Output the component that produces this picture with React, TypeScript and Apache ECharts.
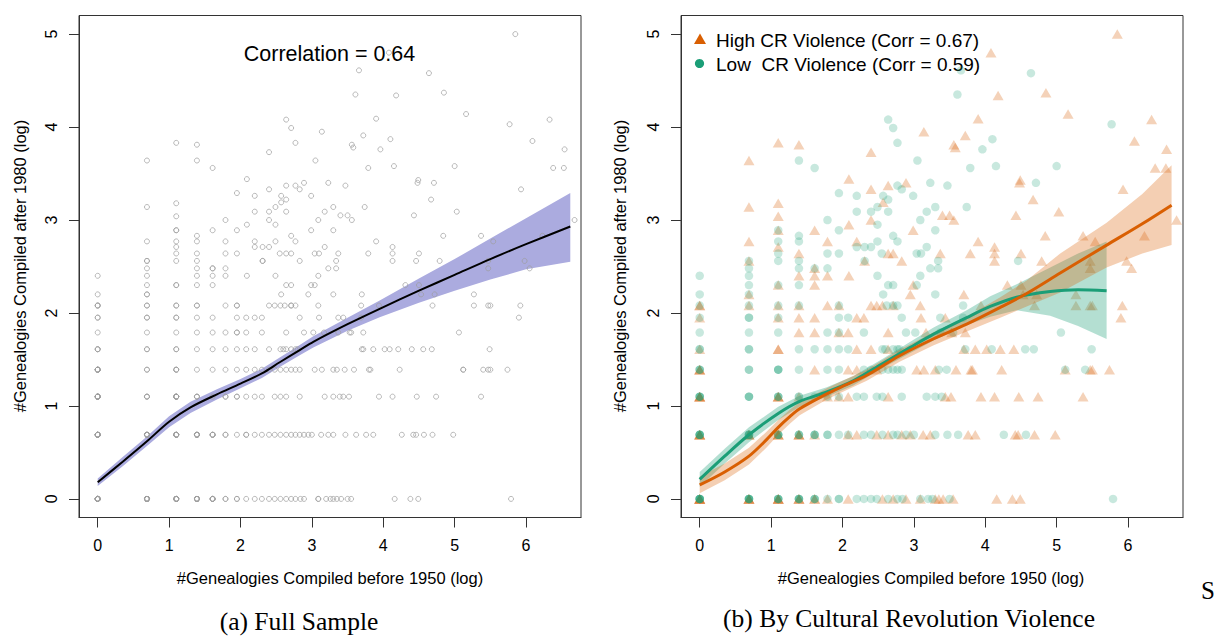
import React, { useEffect, useRef } from "react";
import * as echarts from "echarts";

const FONT = '"Liberation Sans", Arial, Helvetica, sans-serif';
const SERIF = '"Liberation Serif", "Times New Roman", serif';

const xTicks = [0, 1, 2, 3, 4, 5, 6];
const yTicks = [0, 1, 2, 3, 4, 5];

// High CR violence points, grouped by y row: [y, xs]
const highRows: [number, number[]][] = [
  [0, [0, 0.69, 1.1, 1.39, 1.61, 1.79, 2.08, 2.56, 2.71, 2.89, 3.09, 3.3, 3.35, 3.41, 3.55, 4.16, 4.38, 4.49]],
  [0.69, [0, 0.69, 1.1, 1.39, 1.61, 2.08, 2.2, 2.48, 2.64, 2.83, 2.95, 3.13, 3.23, 3.76, 3.86, 4.42, 4.46, 4.69, 4.98]],
  [1.1, [0, 1.1, 1.39, 1.79, 1.95, 2.08, 2.64, 3.44, 3.52, 3.94, 4.13, 4.47, 4.74, 5.37]],
  [1.39, [0, 1.61, 2.08, 2.2, 2.48, 3.04, 3.14, 3.3, 3.59, 3.8, 3.82, 4.23, 5.12, 5.47, 5.5, 5.74]],
  [1.61, [0, 1.1, 2.2, 2.4, 2.64, 3.7, 3.86, 4.02, 4.21, 4.4]],
  [1.79, [1.39, 1.61, 1.95, 2.08, 2.64, 3.17, 3.53, 3.72]],
  [1.95, [0, 1.1, 1.39, 1.61, 2.2, 2.3, 3.1, 3.44, 5.9]],
  [2.08, [0, 0.69, 1.1, 1.39, 1.79, 1.95, 2.4, 2.48, 2.56, 2.71, 3.09, 3.94, 4.69, 5.27, 5.47, 5.5, 5.92]],
  [2.2, [0.69, 2.95, 3.7, 4.53, 4.72, 5.27]],
  [2.3, [1.1, 1.61, 2.99, 4.31, 4.5]],
  [2.4, [1.39, 1.61, 1.79, 2.09]],
  [2.48, [1.61, 5.47, 6.05]],
  [2.56, [0.69, 2.31, 2.83, 4.13, 4.79, 5.47, 5.98]],
  [2.64, [1.39, 2.64, 2.71, 3.37, 3.79, 4.13, 4.5]],
  [2.71, [1.1, 4.13]],
  [2.77, [0.69, 1.79, 2.2, 3.9, 5.54]],
  [2.83, [4.84, 5.37, 6.23]],
  [2.89, [1.1, 1.61, 2.99]],
];
const highUpper: number[][] = [
  [2.09, 2.95], [2.4, 3.0], [3.56, 3.0], [6.68, 3.0], [1.1, 3.04], [3.4, 3.05], [3.5, 3.05], [4.43, 3.05],
  [5.03, 3.09], [0.69, 3.14], [1.1, 3.18], [2.57, 3.19], [4.67, 3.22], [2.4, 3.33], [2.64, 3.37], [2.89, 3.4],
  [4.49, 3.43], [4.48, 3.4], [5.93, 3.33], [2.09, 3.44], [0.69, 3.64], [6.38, 3.56], [6.53, 3.56], [2.4, 3.73],
  [1.1, 3.83], [1.39, 3.81], [3.14, 3.95], [3.72, 3.91], [3.56, 3.81], [3.58, 3.78], [6.09, 3.85], [6.54, 3.76],
  [3.9, 4.09], [6.33, 4.08], [5.16, 4.14], [4.18, 4.34], [4.85, 4.37], [4.08, 4.8], [5.85, 5.0],
];
// repeated observations at the same cell: [x, y, extra count]
const highRepeats: number[][] = [
  [0, 0, 4], [0, 0.69, 3], [0, 1.1, 3], [0, 1.39, 2], [0, 2.08, 1], [0.69, 0, 3], [0.69, 0.69, 2],
  [1.1, 0, 3], [1.1, 0.69, 2], [1.1, 1.1, 2], [1.39, 0, 2], [1.39, 0.69, 2], [1.61, 0, 1], [1.1, 1.61, 1],
];

// Low CR violence points
const lowRows: [number, number[]][] = [
  [0, [0, 0.69, 1.1, 1.39, 1.61, 1.79, 1.95, 2.2, 2.3, 2.4, 2.48, 2.64, 2.77, 2.84, 3.09, 3.2, 3.26, 3.5, 5.79]],
  [0.69, [0, 0.69, 1.1, 1.39, 1.61, 1.79, 1.95, 2.08, 2.3, 2.4, 2.56, 2.71, 2.77, 2.89, 3.0, 3.3, 3.47, 3.62, 4.26, 4.57]],
  [1.1, [0, 0.69, 1.1, 1.39, 1.61, 1.95, 2.2, 2.3, 2.48, 2.56, 2.83, 3.18, 3.3, 3.39]],
  [1.39, [0, 0.69, 1.1, 1.39, 1.79, 1.95, 2.3, 2.4, 2.56, 2.64, 2.71, 2.77, 2.83, 3.35, 3.46, 5.12, 5.4]],
  [1.61, [0, 0.69, 1.39, 1.61, 1.79, 1.95, 2.08, 2.56, 2.6, 2.71, 2.77, 2.8, 3.72, 4.09, 4.56, 4.68, 5.49]],
  [1.79, [0, 0.69, 1.1, 1.79, 1.95, 2.3, 2.89, 3.02, 3.37, 3.55, 5.06]],
  [1.95, [0, 0.69, 1.1, 1.95, 2.08, 2.83, 3.37, 3.69]],
  [2.08, [0, 0.69, 1.1, 1.39, 1.95, 2.62, 2.71, 2.77, 3.69]],
  [2.2, [0, 0.69, 2.57, 3.3]],
  [2.3, [0.69, 1.1, 1.39, 2.64, 2.71, 3.04]],
  [2.4, [0, 0.69, 2.49, 3.09]],
  [2.48, [0.69, 1.39, 1.61, 1.79, 3.23, 3.34]],
  [2.56, [0.69, 1.1, 1.39, 2.31, 3.34, 4.46]],
  [2.64, [1.1, 1.79, 1.95, 2.55, 3.04, 3.1]],
  [2.71, [2.2, 2.31, 2.4, 3.18]],
  [2.77, [1.1, 1.39, 2.49, 2.77]],
  [2.83, [1.39, 2.71]],
  [2.89, [1.1, 1.95, 3.3]],
];
const lowUpper: number[][] = [
  [1.79, 3.0], [2.49, 2.95], [3.09, 3.0], [2.2, 3.09], [2.4, 3.09], [2.64, 3.09], [3.18, 3.09], [2.49, 3.14],
  [3.3, 3.14], [3.74, 3.14], [2.64, 3.22], [2.2, 3.26], [2.57, 3.26], [2.99, 3.26], [1.95, 3.29], [2.83, 3.33],
  [2.77, 3.37], [3.23, 3.4], [3.47, 3.37], [4.71, 3.4], [1.61, 3.56], [1.39, 3.64], [3.05, 3.64], [3.79, 3.56],
  [4.15, 3.58], [5.0, 3.58], [2.77, 3.83], [2.71, 3.99], [4.1, 3.87], [3.96, 3.76], [2.64, 4.08], [5.77, 4.03],
  [3.61, 4.35], [3.66, 4.61], [4.64, 4.58],
];
const lowRepeats: number[][] = [
  [0, 0, 5], [0, 0.69, 4], [0, 1.1, 3], [0, 1.39, 2], [0, 1.61, 1], [0.69, 0, 4], [0.69, 0.69, 3],
  [0.69, 1.1, 2], [0.69, 1.39, 1], [0.69, 1.95, 1], [0.69, 1.61, 1], [1.1, 0, 3], [1.1, 0.69, 3],
  [1.1, 1.1, 2], [1.1, 1.39, 2], [1.39, 0, 3], [1.39, 0.69, 2], [1.39, 1.1, 1], [1.61, 0, 2],
  [1.61, 0.69, 2], [1.79, 0.69, 1], [1.79, 1.1, 1], [1.95, 0, 1],
];

// Loess fits with confidence bands
const fullX = [0, 0.35, 0.69, 1.0, 1.3, 1.67, 2.0, 2.3, 2.55, 2.83, 3.02, 3.5, 3.95, 4.5, 5.0, 5.5, 6.0, 6.62];
const fullFit = [0.18, 0.4, 0.62, 0.83, 0.985, 1.125, 1.24, 1.35, 1.47, 1.6, 1.69, 1.88, 2.045, 2.24, 2.41, 2.58, 2.74, 2.93];
const fullLower = [0.14, 0.35, 0.57, 0.77, 0.925, 1.07, 1.19, 1.3, 1.42, 1.545, 1.63, 1.81, 1.955, 2.11, 2.24, 2.36, 2.47, 2.55];
const fullUpper = [0.22, 0.45, 0.67, 0.89, 1.045, 1.18, 1.29, 1.4, 1.52, 1.655, 1.75, 1.95, 2.135, 2.37, 2.58, 2.8, 3.02, 3.29];

const hiX = [0, 0.35, 0.69, 0.94, 1.1, 1.27, 1.4, 1.78, 2.0, 2.34, 2.8, 3.27, 3.74, 4.21, 4.58, 5.05, 5.7, 6.2, 6.61];
const hiFit = [0.15, 0.29, 0.46, 0.64, 0.77, 0.89, 0.97, 1.13, 1.21, 1.33, 1.54, 1.72, 1.88, 2.06, 2.21, 2.43, 2.73, 2.96, 3.16];
const hiLower = [0.06, 0.2, 0.37, 0.555, 0.69, 0.815, 0.9, 1.07, 1.15, 1.27, 1.475, 1.65, 1.8, 1.95, 2.07, 2.22, 2.49, 2.64, 2.73];
const hiUpper = [0.24, 0.38, 0.55, 0.725, 0.85, 0.965, 1.04, 1.19, 1.27, 1.39, 1.605, 1.79, 1.96, 2.17, 2.35, 2.64, 2.97, 3.28, 3.59];

const loX = [0, 0.35, 0.69, 1.1, 1.4, 1.78, 2.15, 2.57, 2.95, 3.27, 3.74, 4.07, 4.44, 4.91, 5.3, 5.7];
const loFit = [0.21, 0.46, 0.69, 0.92, 1.05, 1.15, 1.27, 1.46, 1.63, 1.77, 1.95, 2.07, 2.17, 2.23, 2.25, 2.24];
const loLower = [0.13, 0.38, 0.61, 0.85, 0.99, 1.1, 1.22, 1.41, 1.57, 1.7, 1.87, 1.96, 2.03, 1.97, 1.86, 1.72];
const loUpper = [0.29, 0.54, 0.77, 0.99, 1.11, 1.2, 1.32, 1.51, 1.69, 1.84, 2.03, 2.18, 2.31, 2.49, 2.64, 2.77];

const ORANGE = "#D95F02";
const TEAL = "#1B9E77";

function rowsToPoints(rows: [number, number[]][], extra: number[][], repeats: number[][]): number[][] {
  const out: number[][] = [];
  rows.forEach(([y, xs]) => xs.forEach((x) => out.push([x, y])));
  extra.forEach((p) => out.push([p[0], p[1]]));
  repeats.forEach(([x, y, n]) => {
    for (let k = 0; k < n; k++) out.push([x, y]);
  });
  return out;
}

function band(idx: number, xs: number[], lo: number[], hi: number[], color: string, z: number) {
  return {
    type: "custom",
    xAxisIndex: idx,
    yAxisIndex: idx,
    z,
    silent: true,
    data: [[xs[0], lo[0]]],
    renderItem: (_params: any, api: any) => {
      const pts: number[][] = [];
      for (let i = 0; i < xs.length; i++) pts.push(api.coord([xs[i], hi[i]]));
      for (let i = xs.length - 1; i >= 0; i--) pts.push(api.coord([xs[i], lo[i]]));
      return { type: "polygon", shape: { points: pts }, style: { fill: color, stroke: "none" } };
    },
  };
}

function fitLine(idx: number, xs: number[], ys: number[], color: string, width: number, z: number) {
  return {
    type: "line",
    xAxisIndex: idx,
    yAxisIndex: idx,
    z,
    silent: true,
    smooth: 0.3,
    showSymbol: false,
    symbol: "none",
    lineStyle: { color, width },
    data: xs.map((x, i) => [x, ys[i]]),
  };
}

function txt(x: number, y: number, text: string, font: string, extra: any = {}) {
  return {
    type: "text",
    x,
    y,
    silent: true,
    ...extra,
    style: {
      text,
      font,
      fill: "#000",
      align: extra.align || "center",
      verticalAlign: "middle",
      textAlign: extra.align || "center",
      textVerticalAlign: "middle",
    },
  };
}

export default function App() {
  const ref = useRef<HTMLDivElement>(null);
  useEffect(() => {
    if (!ref.current) return;
    const chart = echarts.init(ref.current, undefined, { renderer: "svg" });
    const highPoints = rowsToPoints(highRows, highUpper, highRepeats);
    const lowPoints = rowsToPoints(lowRows, lowUpper, lowRepeats);
    const allPoints = highPoints.concat(lowPoints);

    const gridBase = { top: 15.5, width: 502, height: 502, show: true, borderColor: "#333", borderWidth: 1, backgroundColor: "transparent" };
    const xAxisBase = (i: number) => ({
      gridIndex: i,
      type: "value",
      min: -0.262,
      max: 6.77,
      splitLine: { show: false },
      axisLine: { show: true, onZero: false, lineStyle: { color: "#333", width: 1 } },
      axisTick: { show: true, inside: false, length: 10, customValues: xTicks, lineStyle: { color: "#333", width: 1 } },
      axisLabel: { customValues: xTicks, fontSize: 16, color: "#000", margin: 20, fontFamily: FONT },
    });
    const yAxisBase = (i: number) => ({
      gridIndex: i,
      type: "value",
      min: -0.2,
      max: 5.2,
      splitLine: { show: false },
      axisLine: { show: true, onZero: false, lineStyle: { color: "#333", width: 1 } },
      axisTick: { show: true, inside: false, length: 10, customValues: yTicks, lineStyle: { color: "#333", width: 1 } },
      axisLabel: { customValues: yTicks, fontSize: 16, color: "#000", margin: 20, rotate: 90, fontFamily: FONT },
    });

    const option: any = {
      animation: false,
      grid: [
        { ...gridBase, left: 79 },
        { ...gridBase, left: 681 },
      ],
      xAxis: [xAxisBase(0), xAxisBase(1)],
      yAxis: [yAxisBase(0), yAxisBase(1)],
      series: [
        band(0, fullX, fullLower, fullUpper, "#ABABDF", 1),
        {
          type: "scatter",
          xAxisIndex: 0,
          yAxisIndex: 0,
          z: 2,
          silent: true,
          symbol: "circle",
          symbolSize: 5,
          itemStyle: { color: "rgba(0,0,0,0)", borderColor: "#9E9E9E", borderWidth: 0.9 },
          data: allPoints,
        },
        fitLine(0, fullX, fullFit, "#000", 2, 3),
        {
          type: "scatter",
          xAxisIndex: 1,
          yAxisIndex: 1,
          z: 2,
          silent: true,
          symbol: "triangle",
          symbolSize: [11, 9.5],
          itemStyle: { color: ORANGE, opacity: 0.28 },
          data: highPoints,
        },
        {
          type: "scatter",
          xAxisIndex: 1,
          yAxisIndex: 1,
          z: 2,
          silent: true,
          symbol: "circle",
          symbolSize: 8.5,
          itemStyle: { color: TEAL, opacity: 0.24 },
          data: lowPoints,
        },
        band(1, loX, loLower, loUpper, "rgba(27,158,119,0.33)", 3),
        band(1, hiX, hiLower, hiUpper, "rgba(217,95,2,0.3)", 3),
        fitLine(1, loX, loFit, TEAL, 3, 4),
        fitLine(1, hiX, hiFit, ORANGE, 3, 5),
      ],
      graphic: [
        txt(329.5, 54, "Correlation = 0.64", `21.5px ${FONT}`),
        txt(330, 578, "#Genealogies Compiled before 1950 (log)", `16.5px ${FONT}`),
        txt(931, 578, "#Genealogies Compiled before 1950 (log)", `16.5px ${FONT}`),
        txt(20, 266, "#Genealogies Compiled after 1980 (log)", `16.5px ${FONT}`, { rotation: Math.PI / 2 }),
        txt(620, 266, "#Genealogies Compiled after 1980 (log)", `16.5px ${FONT}`, { rotation: Math.PI / 2 }),
        {
          type: "polygon",
          silent: true,
          shape: { points: [[694, 44], [706, 44], [700, 33.5]] },
          style: { fill: ORANGE },
        },
        { type: "circle", silent: true, shape: { cx: 699.5, cy: 63.5, r: 4.6 }, style: { fill: TEAL } },
        txt(716, 40.5, "High CR Violence (Corr = 0.67)", `19px ${FONT}`, { align: "left" }),
        txt(716, 64, "Low  CR Violence (Corr = 0.59)", `19px ${FONT}`, { align: "left" }),
        txt(299, 621, "(a) Full Sample", `25.5px ${SERIF}`),
        txt(909, 618, "(b) By Cultural Revolution Violence", `25.5px ${SERIF}`),
        txt(1208, 590, "S", `25px ${SERIF}`),
      ],
    };
    chart.setOption(option);
    return () => chart.dispose();
  }, []);
  return (
    <div
      ref={ref}
      style={{ position: "fixed", left: 0, top: 0, width: 1215, height: 637, background: "#fff" }}
    />
  );
}
